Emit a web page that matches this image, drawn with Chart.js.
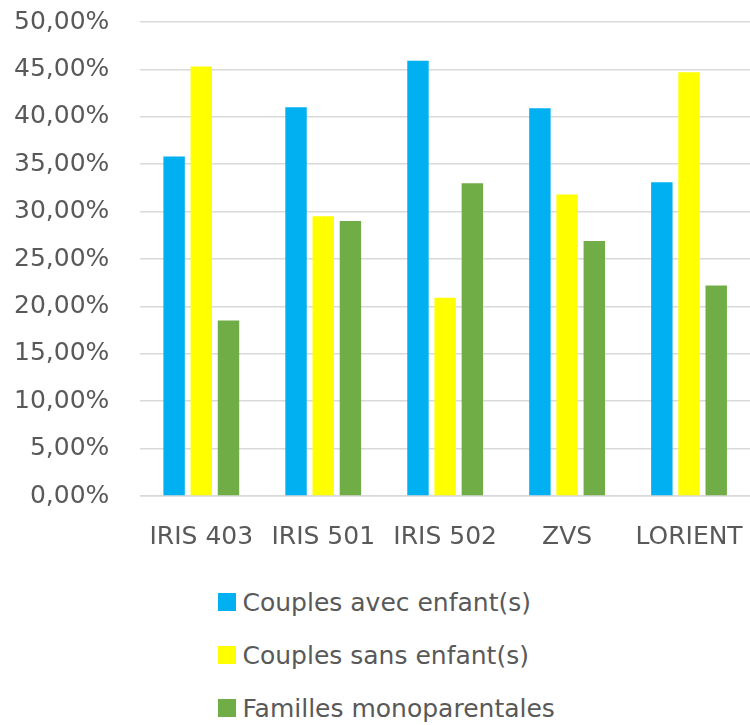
<!DOCTYPE html>
<html>
<head>
<meta charset="utf-8">
<script src="https://cdn.jsdelivr.net/npm/chart.js@4/dist/chart.umd.min.js"></script>
<style>
  html, body { margin: 0; padding: 0; background: #ffffff; }
  #wrap { position: relative; width: 750px; height: 560px; }
  #legend { position: absolute; left: 218px; top: 585px; font-family: "DejaVu Sans", sans-serif; font-size: 25px; color: #595959; }
  .item { display: flex; align-items: center; height: 34px; margin-bottom: 19px; }
  .box { width: 17.5px; height: 17.5px; margin-right: 7px; flex: none; }
</style>
</head>
<body>
<div id="wrap"><canvas id="c" width="750" height="560"></canvas></div>
<div id="legend"></div>
<script>
const categories = ["IRIS 403", "IRIS 501", "IRIS 502", "ZVS", "LORIENT"];
const seriesNames = ["Couples avec enfant(s)", "Couples sans enfant(s)", "Familles monoparentales"];
const couplesAvecEnfants = [35.8, 41.0, 45.9, 40.9, 33.1];
const couplesSansEnfants = [45.3, 29.5, 20.9, 31.8, 44.7];
const famillesMonoparentales = [18.5, 29.0, 33.0, 26.9, 22.2];
const seriesColors = ["#00B0F0", "#FFFF00", "#70AD47"];
const yTicks = [0, 5, 10, 15, 20, 25, 30, 35, 40, 45, 50];

const seriesValues = [couplesAvecEnfants, couplesSansEnfants, famillesMonoparentales];

const chart = new Chart(document.getElementById('c'), {
  type: 'bar',
  data: {
    labels: categories,
    datasets: seriesNames.map((name, i) => ({
      label: name,
      data: seriesValues[i],
      backgroundColor: seriesColors[i],
      borderWidth: 0,
      categoryPercentage: 0.669,
      barPercentage: 0.788
    }))
  },
  options: {
    responsive: false,
    animation: false,
    devicePixelRatio: 1,
    layout: { padding: { left: 14, right: 0, top: 22, bottom: 8 } },
    plugins: { legend: { display: false }, tooltip: { enabled: false } },
    scales: {
      x: {
        grid: { display: true, drawOnChartArea: false, color: 'rgba(0,0,0,0)', drawTicks: true, tickLength: 26, tickColor: 'rgba(0,0,0,0)' },
        border: { display: true, color: '#d9d9d9', width: 1.5 },
        ticks: { color: '#595959', font: { family: 'DejaVu Sans', size: 25 }, padding: 0, maxRotation: 0, autoSkip: false }
      },
      y: {
        min: 0, max: 50,
        afterBuildTicks: axis => { axis.ticks = yTicks.map(v => ({ value: v })); },
        grid: { color: '#d9d9d9', lineWidth: 1.5, drawTicks: true, tickLength: 31, tickColor: 'rgba(0,0,0,0)' },
        border: { display: false },
        ticks: {
          color: '#595959', font: { family: 'DejaVu Sans', size: 25 }, padding: 0,
          callback: v => v.toFixed(2).replace('.', ',') + '%'
        }
      }
    }
  }
});

const legend = document.getElementById('legend');
chart.data.datasets.forEach(ds => {
  const item = document.createElement('div');
  item.className = 'item';
  const box = document.createElement('span');
  box.className = 'box';
  box.style.background = ds.backgroundColor;
  const txt = document.createElement('span');
  txt.textContent = ds.label;
  item.appendChild(box);
  item.appendChild(txt);
  legend.appendChild(item);
});
</script>
</body>
</html>
